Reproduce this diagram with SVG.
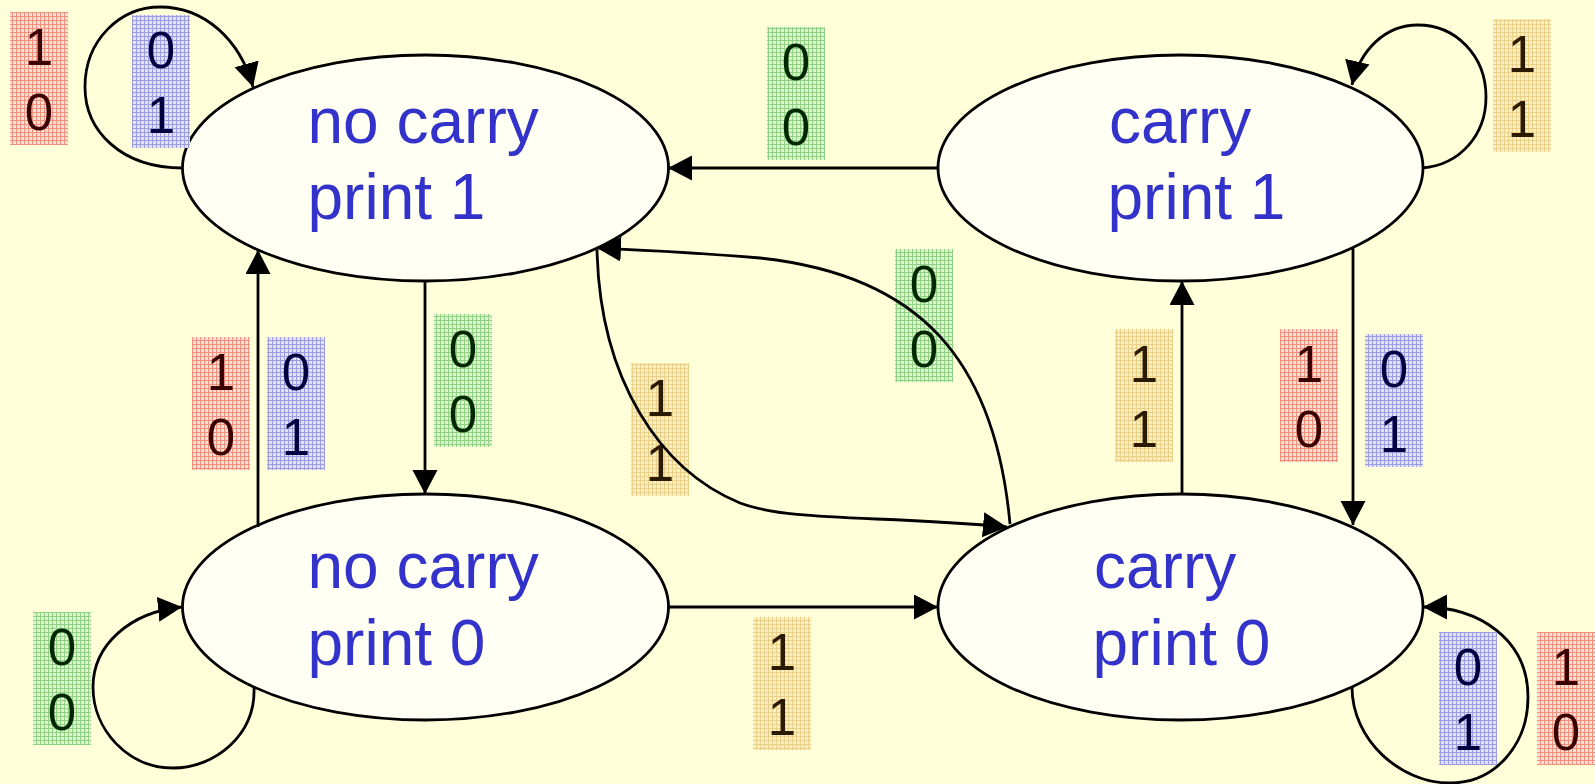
<svg xmlns="http://www.w3.org/2000/svg" width="1595" height="784" viewBox="0 0 1595 784">
<defs>
<style>
.st{fill:#FFFFF4;stroke:#000;stroke-width:2.8}
.nt{font-family:"Liberation Sans",Arial,sans-serif;font-size:64px;fill:#3333CC}
.c{fill:none;stroke:#000;stroke-width:2.8}
.d{font-family:"Liberation Sans",Arial,sans-serif;font-size:51px;text-anchor:middle}
.r{fill:url(#pr)} .rt{fill:#3A0000}
.b{fill:url(#pb)} .bt{fill:#000040}
.g{fill:url(#pg)} .gt{fill:#002800}
.y{fill:url(#py)} .yt{fill:#2A1A00}
</style>
<marker id="ah" markerUnits="userSpaceOnUse" markerWidth="26" markerHeight="26" refX="24" refY="12.5" orient="auto">
<path d="M0,0 L24,12.5 L0,25 z" fill="#000"/>
</marker>
<pattern id="pr" width="4" height="4" patternUnits="userSpaceOnUse"><rect width="4" height="4" fill="#FCE0D2"/><path d="M0,0.5H4M0.5,0V4" stroke="#F29080" stroke-width="1"/></pattern>
<pattern id="pb" width="4" height="4" patternUnits="userSpaceOnUse"><rect width="4" height="4" fill="#E2E2F6"/><path d="M0,0.5H4M0.5,0V4" stroke="#9C9CE2" stroke-width="1"/></pattern>
<pattern id="pg" width="4" height="4" patternUnits="userSpaceOnUse"><rect width="4" height="4" fill="#DFF2CC"/><path d="M0,0.5H4M0.5,0V4" stroke="#90D284" stroke-width="1"/></pattern>
<pattern id="py" width="4" height="4" patternUnits="userSpaceOnUse"><rect width="4" height="4" fill="#F9EFC4"/><path d="M0,0.5H4M0.5,0V4" stroke="#EACF84" stroke-width="1"/></pattern>
</defs>
<rect width="1595" height="784" fill="#FFFFD9"/>

<g id="nodes">
<g id="n1"><ellipse class="st" cx="425.5" cy="168" rx="243" ry="113"/><text class="nt" x="307.5" y="143">no carry</text><text class="nt" x="307.5" y="219">print 1</text></g>
<g id="c1"><ellipse class="st" cx="1180.5" cy="168" rx="242.5" ry="113"/><text class="nt" x="1109" y="143">carry</text><text class="nt" x="1107.5" y="219">print 1</text></g>
<g id="n0"><ellipse class="st" cx="425.5" cy="607" rx="243" ry="113"/><text class="nt" x="307.5" y="588">no carry</text><text class="nt" x="307.5" y="665">print 0</text></g>
<g id="c0"><ellipse class="st" cx="1180.5" cy="607" rx="242.5" ry="113"/><text class="nt" x="1094" y="588">carry</text><text class="nt" x="1092.5" y="665">print 0</text></g>
</g>

<g id="labels-under">
<g id="lh"><rect class="y" x="631" y="363" width="58" height="133"/><text class="d yt" x="660" y="416">1</text><text class="d yt" x="660" y="481">1</text></g>
<g id="li"><rect class="g" x="895" y="249" width="58" height="133"/><text class="d gt" x="924" y="302">0</text><text class="d gt" x="924" y="367">0</text></g>
</g>

<g id="connectors">
<path class="c" d="M183,168 C120,168 85,130 85,87 C85,40 120,7 160,7 C205,7 240,40 253,87" marker-end="url(#ah)"/>
<path class="c" d="M1422,168 C1460,165 1486,135 1486,97 C1486,55 1455,25 1418,25 C1385,25 1360,50 1352,85" marker-end="url(#ah)"/>
<path class="c" d="M254,687 C256,735 215,768 173,768 C128,768 93,730 93,687 C93,645 130,612 182,607" marker-end="url(#ah)"/>
<path class="c" d="M1352,687 C1352,740 1400,783 1450,783 C1495,783 1528,745 1528,697 C1528,640 1480,607 1423,607" marker-end="url(#ah)"/>
<path class="c" d="M938,168 L668,168" marker-end="url(#ah)"/>
<path class="c" d="M668,607 L938,607" marker-end="url(#ah)"/>
<path class="c" d="M425,281 L425,494" marker-end="url(#ah)"/>
<path class="c" d="M258,527 L258,250" marker-end="url(#ah)"/>
<path class="c" d="M1182,494 L1182,281" marker-end="url(#ah)"/>
<path class="c" d="M1353,248 L1353,525" marker-end="url(#ah)"/>
<path class="c" d="M597,250 C600,380 660,470 740,503 C790,522 880,515 1007,527" marker-end="url(#ah)"/>
<path class="c" d="M1010,524 C995,360 920,275 760,258 C690,252 640,250 597,248" marker-end="url(#ah)"/>
</g>

<g id="labels">
<g id="la"><rect class="r" x="10" y="12" width="58" height="133"/><text class="d rt" x="39" y="65">1</text><text class="d rt" x="39" y="130">0</text></g>
<g id="lb"><rect class="b" x="132" y="15" width="58" height="133"/><text class="d bt" x="161" y="68">0</text><text class="d bt" x="161" y="133">1</text></g>
<g id="lc"><rect class="g" x="767" y="27" width="58" height="133"/><text class="d gt" x="796" y="80">0</text><text class="d gt" x="796" y="145">0</text></g>
<g id="ld"><rect class="y" x="1493" y="19" width="58" height="133"/><text class="d yt" x="1522" y="72">1</text><text class="d yt" x="1522" y="137">1</text></g>
<g id="le"><rect class="r" x="192" y="337" width="58" height="133"/><text class="d rt" x="221" y="390">1</text><text class="d rt" x="221" y="455">0</text></g>
<g id="lf"><rect class="b" x="267" y="337" width="58" height="133"/><text class="d bt" x="296" y="390">0</text><text class="d bt" x="296" y="455">1</text></g>
<g id="lg"><rect class="g" x="434" y="314" width="58" height="133"/><text class="d gt" x="463" y="367">0</text><text class="d gt" x="463" y="432">0</text></g>
<g id="lj"><rect class="y" x="1115" y="329" width="58" height="133"/><text class="d yt" x="1144" y="382">1</text><text class="d yt" x="1144" y="447">1</text></g>
<g id="lk"><rect class="r" x="1280" y="329" width="58" height="133"/><text class="d rt" x="1309" y="382">1</text><text class="d rt" x="1309" y="447">0</text></g>
<g id="ll"><rect class="b" x="1365" y="334" width="58" height="133"/><text class="d bt" x="1394" y="387">0</text><text class="d bt" x="1394" y="452">1</text></g>
<g id="lm"><rect class="g" x="33" y="612" width="58" height="133"/><text class="d gt" x="62" y="665">0</text><text class="d gt" x="62" y="730">0</text></g>
<g id="ln"><rect class="y" x="753" y="617" width="58" height="133"/><text class="d yt" x="782" y="670">1</text><text class="d yt" x="782" y="735">1</text></g>
<g id="lo"><rect class="b" x="1439" y="632" width="58" height="133"/><text class="d bt" x="1468" y="685">0</text><text class="d bt" x="1468" y="750">1</text></g>
<g id="lp"><rect class="r" x="1537" y="632" width="58" height="133"/><text class="d rt" x="1566" y="685">1</text><text class="d rt" x="1566" y="750">0</text></g>
</g>
</svg>
